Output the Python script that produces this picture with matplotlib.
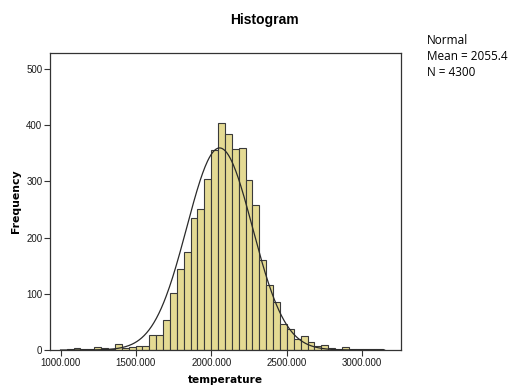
import numpy as np
import matplotlib
matplotlib.use("Agg")
import matplotlib.pyplot as plt

# ----------------------------------------------------------
# Histogram data (temperature bins, 46 bins)
# ----------------------------------------------------------

bin_start = 1041.0
bin_width = 45.65

counts = [2, 4, 2, 2, 5, 4, 2, 10, 3, 6,
          8, 7, 27, 26, 53, 101, 144, 174, 234, 251,
          304, 356, 404, 384, 357, 359, 302, 258, 160, 116,
          85, 46, 37, 19, 25, 15, 7, 9, 4, 2,
          5, 1, 1, 1, 1, 1]

x_ticks = [1000, 1500, 2000, 2500, 3000]
y_ticks = [0, 100, 200, 300, 400, 500]

# normal curve parameters
mean = 2055.4
std_dev = 218.0
n_total = 4300

edges = bin_start + bin_width * np.arange(len(counts) + 1)

# ----------------------------------------------------------
# Plot
# ----------------------------------------------------------

plt.rcParams["font.family"] = ["Liberation Sans", "DejaVu Sans"]

fig = plt.figure(figsize=(5.11, 3.90), dpi=100)
ax = fig.add_axes([50 / 511, 1 - 350 / 390, 351 / 511, 297 / 390])

ax.bar(edges[:-1], counts, width=bin_width, align="edge",
       color="#E4DA93", edgecolor="#3a3a3a", linewidth=0.8)

xs = np.linspace(1000, 3150, 400)
ys = n_total * bin_width / (std_dev * np.sqrt(2 * np.pi)) * \
    np.exp(-0.5 * ((xs - mean) / std_dev) ** 2)
ax.plot(xs, ys, color="#2a2a2a", linewidth=0.9)

ax.set_xlim(930, 3259)
ax.set_ylim(0, 528)
ax.set_xticks(x_ticks)
ax.set_xticklabels(["%.3f" % t for t in x_ticks])
ax.set_yticks(y_ticks)
ax.tick_params(labelsize=7, length=4, width=0.8, color="#333333",
               labelcolor="#1a1a1a", pad=1.5)

for spine in ax.spines.values():
    spine.set_color("#333333")
    spine.set_linewidth(0.9)

ax.set_xlabel("temperature", fontsize=7.6, fontweight="bold", labelpad=5,
              family="DejaVu Sans")
ax.set_ylabel("Frequency", fontsize=7.8, fontweight="bold", labelpad=4,
              family="DejaVu Sans")

fig.text(264 / 511, 1 - 20 / 390, "Histogram", ha="center", va="center",
         fontsize=10, fontweight="bold")

legend_lines = ["Normal", "Mean = %.1f" % mean, "N = %d" % n_total]
for i, line in enumerate(legend_lines):
    fig.text(427 / 511, 1 - (41 + 16 * i) / 390, line, ha="left",
             va="center", fontsize=8.5, family=["Open Sans", "DejaVu Sans"])

fig.savefig("out.png", dpi=100)
